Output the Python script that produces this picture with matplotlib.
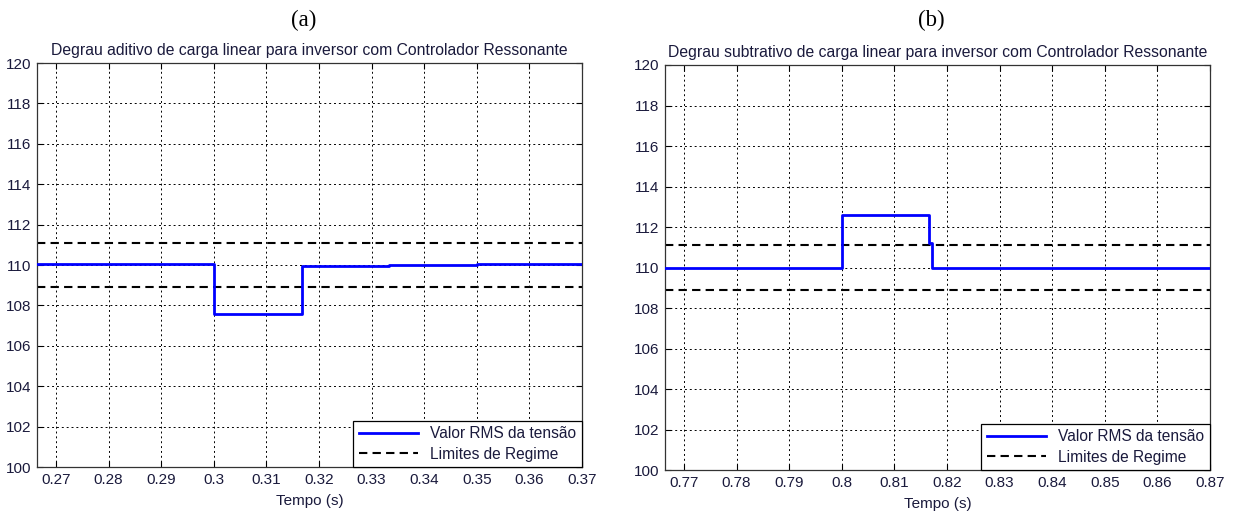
import numpy as np
import matplotlib
matplotlib.use('Agg')
import matplotlib.pyplot as plt
from matplotlib.ticker import FormatStrFormatter

# RMS voltage steps (each level holds until the next edge)
t_add = [0.2664, 0.30, 0.3167, 0.3333, 0.35, 0.37]
v_add = [110.05, 107.55, 109.95, 110.0, 110.05]

t_sub = [0.7664, 0.80, 0.8166, 0.8171, 0.87]
v_sub = [110.0, 112.6, 111.2, 110.0]

# steady-state band (110 V +/- 1%)
lim_upper = 111.1
lim_lower = 108.9

xticks_add = [0.27, 0.28, 0.29, 0.30, 0.31, 0.32, 0.33, 0.34, 0.35, 0.36, 0.37]
xticks_sub = [0.77, 0.78, 0.79, 0.80, 0.81, 0.82, 0.83, 0.84, 0.85, 0.86, 0.87]
yticks = [100, 102, 104, 106, 108, 110, 112, 114, 116, 118, 120]

titles = ['Degrau aditivo de carga linear para inversor com Controlador Ressonante',
          'Degrau subtrativo de carga linear para inversor com Controlador Ressonante']
tags = ['(a)', '(b)']

txt_color = '#1a1a3c'
sans = 'Liberation Sans'

plt.rcParams['font.family'] = sans

fig = plt.figure(figsize=(12.37, 5.11), dpi=100)
ax_a = fig.add_axes([0.0299, 0.0861, 0.4406, 0.7906])
ax_b = fig.add_axes([0.5376, 0.0802, 0.4406, 0.7926])

panels = [(ax_a, t_add, v_add, xticks_add), (ax_b, t_sub, v_sub, xticks_sub)]

for i, (ax, t, v, xt) in enumerate(panels):
    ax.plot(t, v + [v[-1]], drawstyle='steps-post', color='#0000ff', linewidth=2.0,
            label='Valor RMS da tensão', zorder=3)
    ax.axhline(lim_upper, color='black', linestyle=(0, (4, 2.5)), linewidth=1.5,
               label='Limites de Regime', zorder=2)
    ax.axhline(lim_lower, color='black', linestyle=(0, (4, 2.5)), linewidth=1.5, zorder=2)

    ax.set_xlim(t[0], t[-1])
    ax.set_ylim(100, 120)
    ax.set_xticks(xt)
    ax.set_yticks(yticks)
    ax.xaxis.set_major_formatter(FormatStrFormatter('%g'))
    ax.grid(True, color='black', linestyle=(0, (2, 3)), linewidth=0.7)
    ax.tick_params(direction='in', top=True, right=True, length=4, labelsize=11,
                   labelcolor=txt_color, pad=4)
    for s in ax.spines.values():
        s.set_linewidth(0.9)
        s.set_color('#333333')

    ax.set_title(titles[i], fontsize=11.3, color=txt_color, pad=6)
    ax.set_xlabel('Tempo (s)', fontsize=11, color=txt_color, labelpad=5)

    leg = ax.legend(loc='lower right', fontsize=11.2, fancybox=False, framealpha=1,
                    edgecolor='black', borderaxespad=0, handlelength=3.8,
                    borderpad=0.35, labelspacing=0.35)
    leg.get_frame().set_linewidth(0.9)
    for txt in leg.get_texts():
        txt.set_color(txt_color)

    pos = ax.get_position()
    fig.text((pos.x0 + pos.x1) / 2 - 0.005, 1 - 20 / 511, tags[i], ha='center', va='center',
             fontsize=16.5, family='Liberation Serif', color='black')

fig.savefig('out.png', dpi=100)
